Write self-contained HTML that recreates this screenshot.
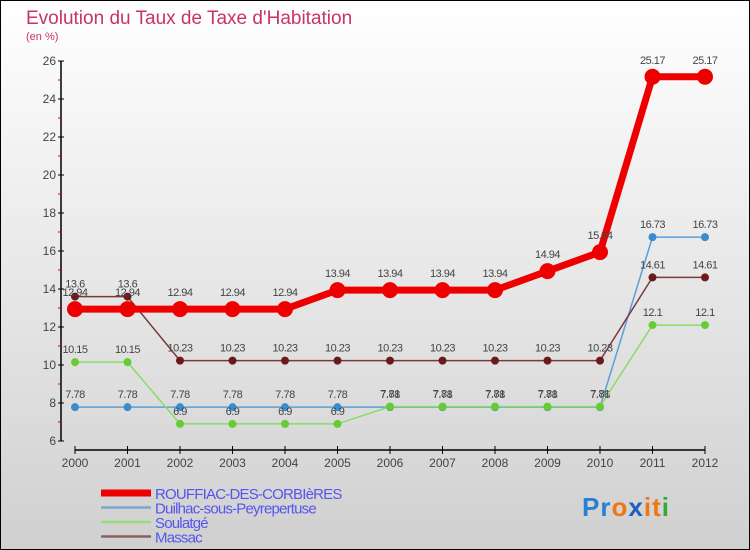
<!DOCTYPE html>
<html><head><meta charset="utf-8"><style>
body{margin:0}
#c{width:750px;height:550px;position:relative;overflow:hidden;box-sizing:border-box;border:1px solid #000;background:linear-gradient(#ffffff,#d0d0d0);font-family:"Liberation Sans",sans-serif}
</style></head><body>
<div id="c">
<svg id="s" width="750" height="550" style="position:absolute;left:-1px;top:-1px">
<text x="26" y="24" font-size="19" fill="#c8336a">Evolution du Taux de Taxe d'Habitation</text>
<text x="26" y="40" font-size="11" fill="#c8336a">(en %)</text>
</svg>
</div>
<script>
const years=['2000','2001','2002','2003','2004','2005','2006','2007','2008','2009','2010','2011','2012'];
const yTicks=[6,8,10,12,14,16,18,20,22,24,26];
const rouffiac=[12.94,12.94,12.94,12.94,12.94,13.94,13.94,13.94,13.94,14.94,15.94,25.17,25.17];
const duilhac=[7.78,7.78,7.78,7.78,7.78,7.78,7.78,7.78,7.78,7.78,7.78,16.73,16.73];
const soulatge=[10.15,10.15,6.9,6.9,6.9,6.9,7.81,7.81,7.81,7.81,7.81,12.1,12.1];
const massac=[13.6,13.6,10.23,10.23,10.23,10.23,10.23,10.23,10.23,10.23,10.23,14.61,14.61];
const names=['ROUFFIAC-DES-CORBIèRES','Duilhac-sous-Peyrepertuse','Soulatgé','Massac'];
const NS='http://www.w3.org/2000/svg';
const s=document.getElementById('s');
const X=i=>75+i*52.5;
const Y=v=>441-(v-6)*19;
function el(t,a,p){const e=document.createElementNS(NS,t);for(const k in a)e.setAttribute(k,a[k]);(p||s).appendChild(e);return e;}
// axes
let ax=el('line',{x1:61,y1:61,x2:61,y2:441,stroke:'#000','stroke-width':1.5});


let bx=el('line',{x1:75,y1:450,x2:705,y2:450,stroke:'#000','stroke-width':1.5});


yTicks.forEach(v=>{
 el('line',{x1:58,y1:Y(v),x2:64,y2:Y(v),stroke:'#000'});
 if(v<26)el('line',{x1:58,y1:Y(v+1),x2:61,y2:Y(v+1),stroke:'#d00'});
 const t=el('text',{x:56,y:Y(v)+4,'font-size':12,fill:'#444','text-anchor':'end'});t.textContent=v;
 
 
});
years.forEach((y,i)=>{
 el('line',{x1:X(i),y1:446,x2:X(i),y2:454,stroke:'#000'});
 const t=el('text',{x:X(i),y:467,'font-size':12,fill:'#444','text-anchor':'middle'});t.textContent=y;
 
 
});
function series(d,col,ptcol,w,r,name,lbl){
 const g=el('g',{});
 
 
 el('polyline',{points:d.map((v,i)=>X(i)+','+Y(v)).join(' '),fill:'none',stroke:col,'stroke-width':w,'stroke-linejoin':'round'},g);
 d.forEach((v,i)=>{
  const c=el('circle',{cx:X(i),cy:Y(v),r:r,fill:ptcol},g);
  
  
  const t=el('text',{x:X(i),y:Y(v)-lbl,'font-size':11,fill:'#444','text-anchor':'middle','letter-spacing':'-0.5'},g);
  t.textContent=v;
 });
}
series(duilhac,'#5aa0d8','#3a8ccc',1.5,4,'series-duilhac',9);
series(soulatge,'#88dd66','#66cc33',1.5,4,'series-soulatge',9);
series(massac,'#7a3a3a','#6a1a1a',1.5,4,'series-massac',9);
series(rouffiac,'#ee0000','#ee0000',7,8,'series-rouffiac',13);
// legend
const lc=['#ee0000','#7aa8cc','#99dd77','#8a6060'];const lw=[7,2.5,2.5,2.5];
names.forEach((n,i)=>{
 const y=493+i*14.5;
 const l=el('line',{x1:101,y1:y,x2:151,y2:y,stroke:lc[i],'stroke-width':lw[i]});
 
 
 const t=el('text',{x:155,y:y+6,'font-size':15,fill:'#5555ee','letter-spacing':'-0.8'});t.textContent=n;
 
 
});
const p=el('text',{x:582,y:516,'font-size':26,'font-weight':'bold','letter-spacing':'1'});


[['P','#2a7fd0'],['r','#2a7fd0'],['o','#ee7711'],['x','#1a60c0'],['i','#ee7711'],['t','#ee7711'],['i','#33aa33']].forEach(([c,f])=>{const sp=el('tspan',{fill:f},p);sp.textContent=c;});
</script>
</body></html>
